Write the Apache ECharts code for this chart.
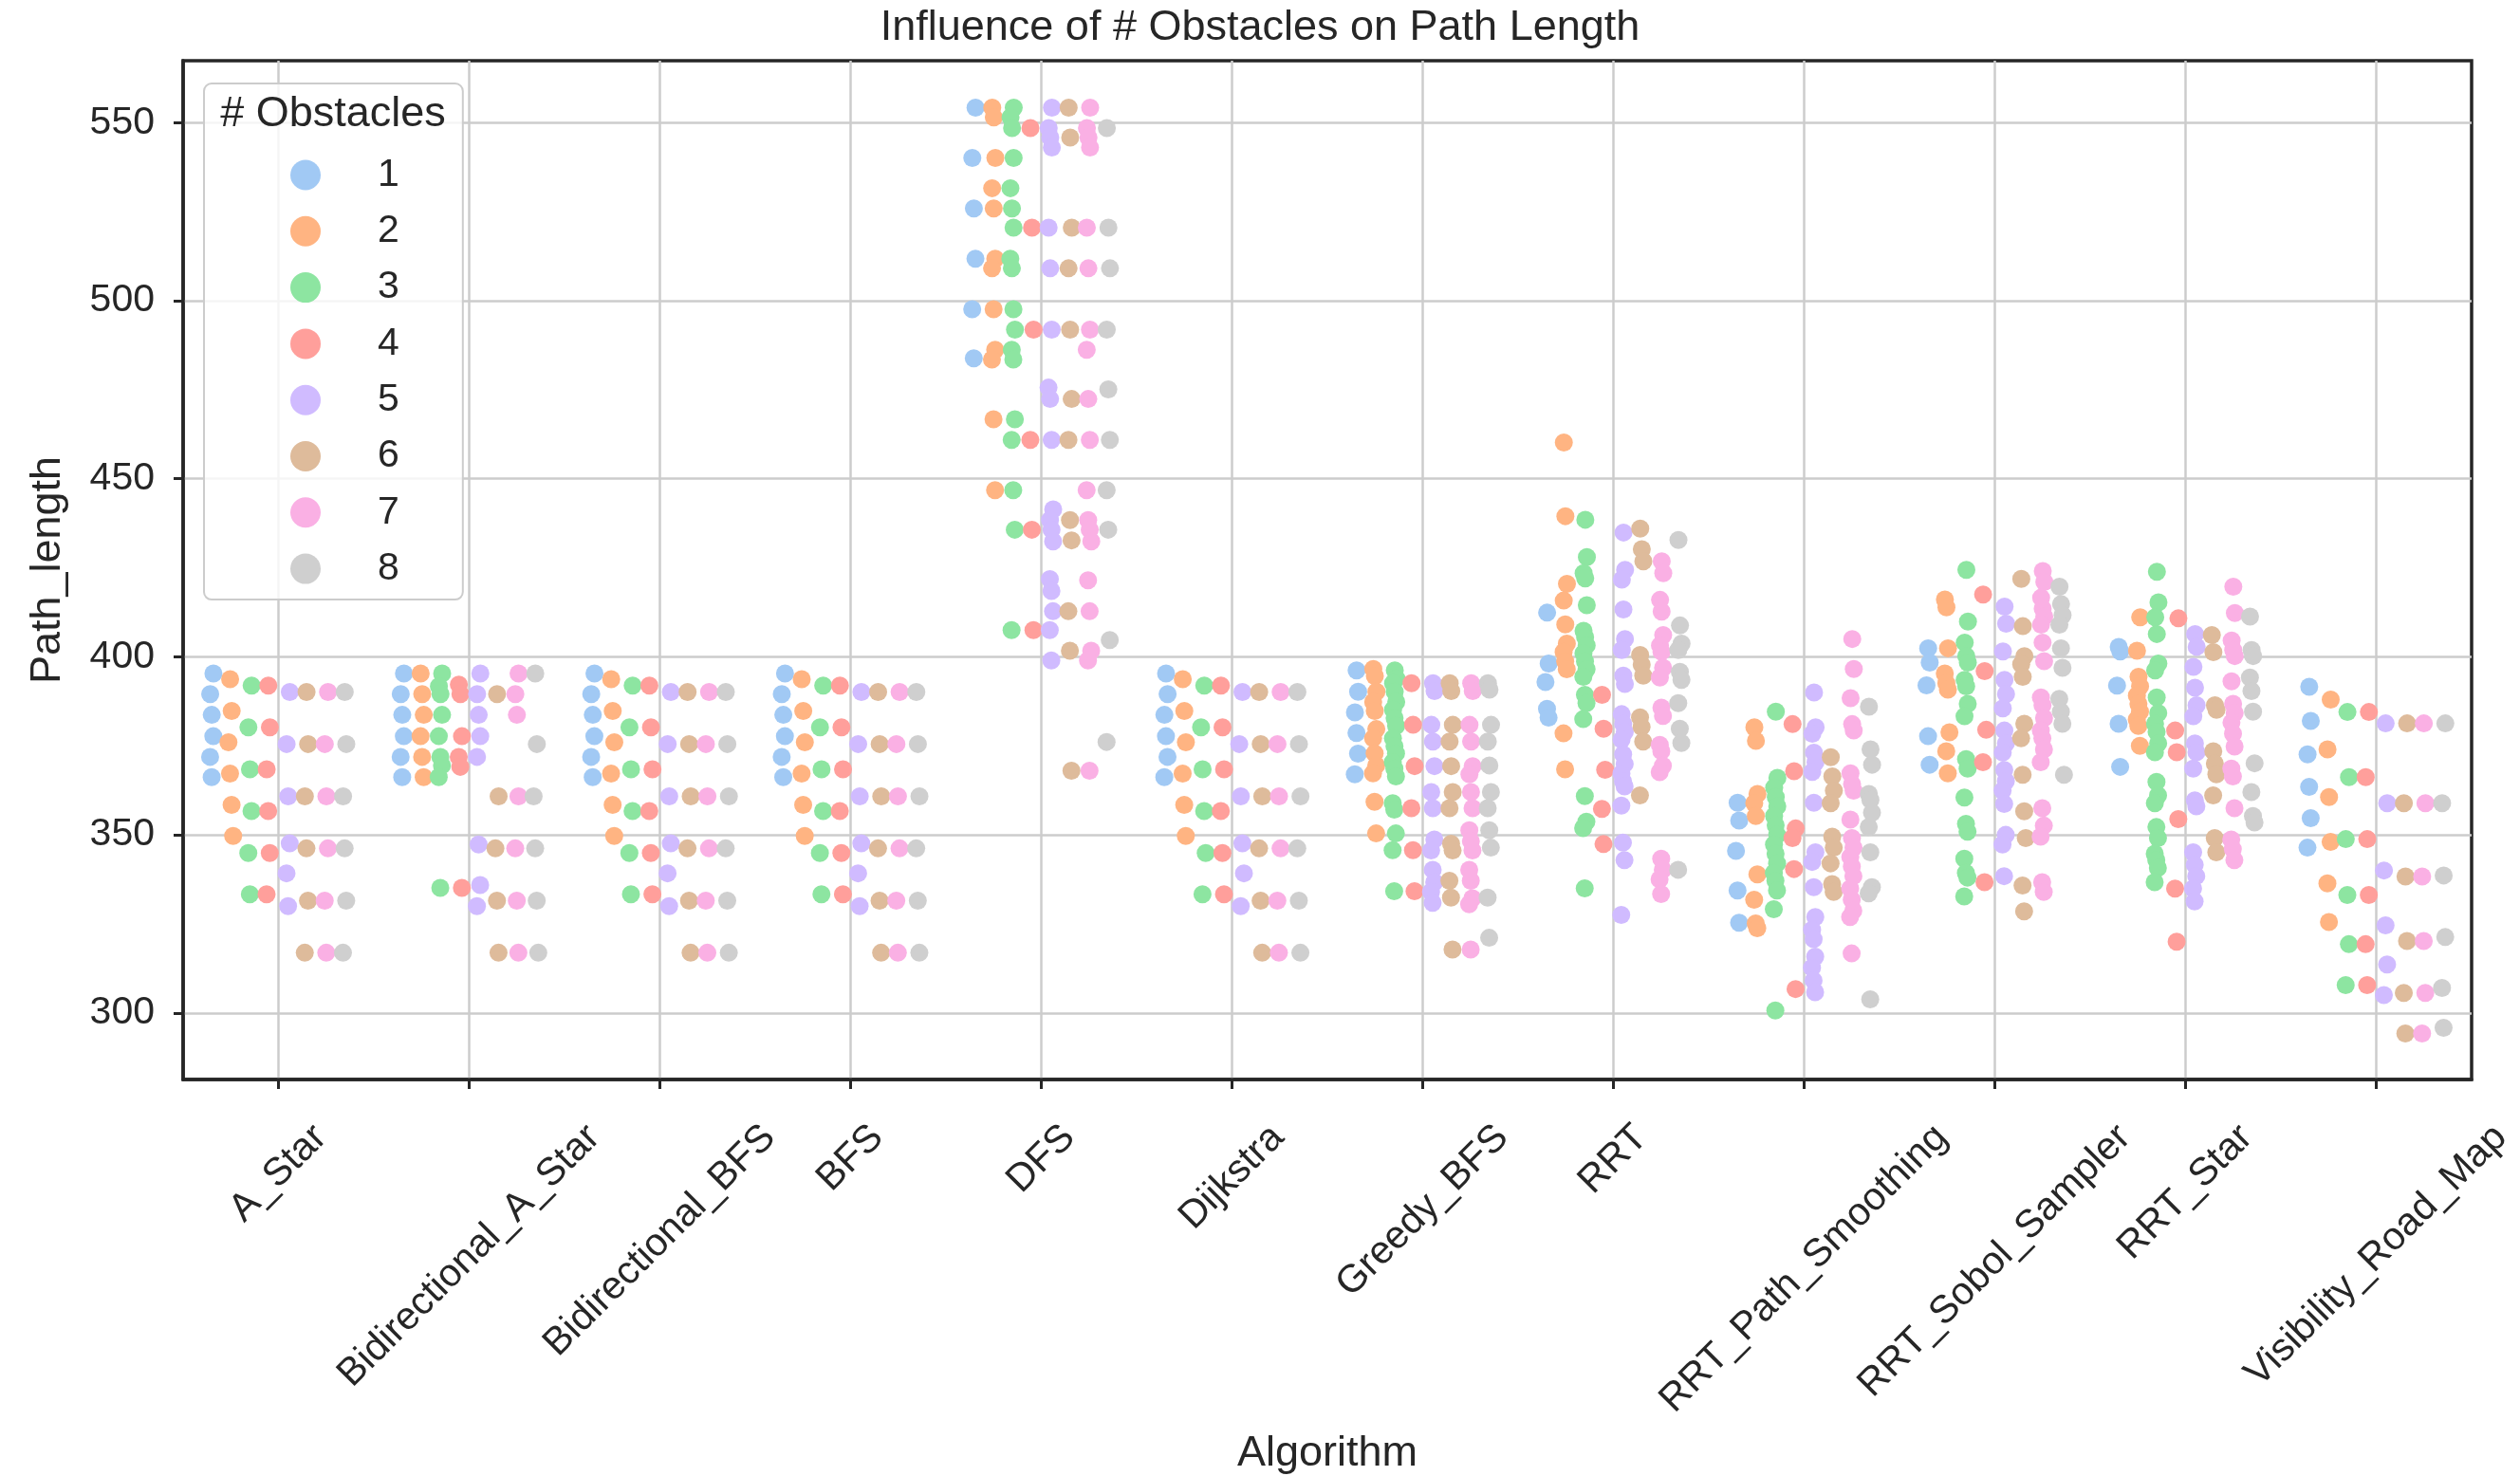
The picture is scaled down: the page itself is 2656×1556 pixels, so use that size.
<!DOCTYPE html>
<html>
<head>
<meta charset="utf-8">
<script src="https://cdn.jsdelivr.net/npm/echarts@6/dist/echarts.min.js"></script>
<style>
html,body{margin:0;padding:0;background:#fff;}
#chart{width:2656px;height:1556px;}
</style>
</head>
<body>
<div id="chart"></div>
<script>
const categories = ['A_Star','Bidirectional_A_Star','Bidirectional_BFS','BFS','DFS','Dijkstra','Greedy_BFS','RRT','RRT_Path_Smoothing','RRT_Sobol_Sampler','RRT_Star','Visibility_Road_Map'];
const hues = ['1','2','3','4','5','6','7','8'];
const colors = ['#a1c9f4','#ffb482','#8de5a1','#ff9f9b','#d0bbff','#debb9b','#fab0e4','#cfcfcf'];
const yTicks = [300,350,400,450,500,550];

// values per algorithm: one list per number of obstacles (1..8)
const A_Star = [
  [395.3,389.5,383.7,377.7,371.9,366.2],
  [393.7,384.8,376.0,367.2,358.4,349.7],
  [391.9,380.2,368.4,356.7,344.9,333.3],
  [391.9,380.2,368.4,356.7,344.9,333.3],
  [390.1,375.5,360.8,347.6,339.2,330.0],
  [390.1,375.5,360.8,346.2,331.5,316.9],
  [390.1,375.5,360.8,346.2,331.5,316.9],
  [390.1,375.5,360.8,346.2,331.5,316.9]
];
const Bidirectional_A_Star = [
  [395.3,389.5,383.7,377.7,371.9,366.2],
  [395.3,389.5,383.7,377.7,371.9,366.2],
  [395.3,391.7,389.5,383.7,377.7,371.9,369.5,366.2,335.1],
  [392.2,389.5,377.7,371.9,369.1,335.1],
  [395.3,389.5,383.7,377.7,371.9,347.3,335.9,330.0],
  [389.5,360.8,346.2,331.5,316.9],
  [395.3,389.5,383.7,360.8,346.2,331.5,316.9],
  [395.3,375.5,360.8,346.2,331.5,316.9]
];
const Bidirectional_BFS = [
  [395.3,389.5,383.7,377.7,371.9,366.2],
  [393.7,384.8,376.0,367.2,358.4,349.7],
  [391.9,380.2,368.4,356.7,344.9,333.3],
  [391.9,380.2,368.4,356.7,344.9,333.3],
  [390.1,375.5,360.8,347.6,339.2,330.0],
  [390.1,375.5,360.8,346.2,331.5,316.9],
  [390.1,375.5,360.8,346.2,331.5,316.9],
  [390.1,375.5,360.8,346.2,331.5,316.9]
];
const BFS = [
  [395.3,389.5,383.7,377.7,371.9,366.2],
  [393.7,384.8,376.0,367.2,358.4,349.7],
  [391.9,380.2,368.4,356.7,344.9,333.3],
  [391.9,380.2,368.4,356.7,344.9,333.3],
  [390.1,375.5,360.8,347.6,339.2,330.0],
  [390.1,375.5,360.8,346.2,331.5,316.9],
  [390.1,375.5,360.8,346.2,331.5,316.9],
  [390.1,375.5,360.8,346.2,331.5,316.9]
];
const DFS = [
  [554.2,540.1,525.9,511.8,497.6,483.8],
  [554.2,551.5,540.1,531.6,525.9,511.8,509.1,497.6,486.2,483.5,466.7,446.8],
  [554.2,551.5,548.5,540.1,531.6,525.9,520.5,511.8,509.1,497.6,491.9,486.2,483.5,466.7,460.9,446.8,435.7,407.5],
  [548.5,520.5,491.9,460.9,435.7,407.5],
  [554.2,548.5,545.8,543.0,520.5,509.1,491.9,475.6,472.4,460.9,441.4,438.4,435.7,432.4,421.8,418.5,412.8,407.5,399.0],
  [554.2,545.8,520.5,509.1,491.9,472.4,460.9,438.4,432.7,412.8,401.7,368.0],
  [554.2,548.5,545.8,543.0,520.5,509.1,491.9,486.2,472.4,460.9,446.8,438.4,435.7,432.4,421.5,412.8,401.7,399.0,368.0],
  [548.5,520.5,509.1,491.9,475.1,460.9,446.8,435.7,404.7,376.1]
];
const Dijkstra = [
  [395.3,389.5,383.7,377.7,371.9,366.2],
  [393.7,384.8,376.0,367.2,358.4,349.7],
  [391.9,380.2,368.4,356.7,344.9,333.3],
  [391.9,380.2,368.4,356.7,344.9,333.3],
  [390.1,375.5,360.8,347.6,339.2,330.0],
  [390.1,375.5,360.8,346.2,331.5,316.9],
  [390.1,375.5,360.8,346.2,331.5,316.9],
  [390.1,375.5,360.8,346.2,331.5,316.9]
];
const Greedy_BFS = [
  [396.2,390.2,384.4,378.6,372.8,367.0],
  [396.6,394.6,390.2,387.3,384.8,379.7,377.1,372.9,369.5,367.3,359.3,350.4],
  [396.2,393.9,392.6,390.2,387.3,385.1,382.8,380.6,377.1,374.9,372.9,370.4,368.6,366.4,358.9,357.1,350.4,345.7,334.2],
  [392.6,380.9,369.3,357.5,345.7,334.2],
  [392.6,390.4,380.9,376.2,369.3,362.0,357.5,348.7,345.6,340.2,336.7,334.0,330.9],
  [392.6,390.4,380.9,376.2,369.3,362.0,357.5,347.5,345.6,337.1,332.4,317.8],
  [392.6,390.4,380.9,376.2,369.3,367.0,362.0,357.5,351.3,348.2,345.6,340.2,337.1,332.2,330.5,317.8],
  [392.6,390.8,380.9,376.2,369.5,362.0,357.5,351.3,346.4,332.4,321.1]
];
const RRT = [
  [412.4,398.1,392.9,385.4,382.9],
  [460.2,439.5,420.5,415.8,409.1,403.7,401.4,398.7,396.5,378.5,368.4],
  [438.5,428.0,423.5,422.0,414.5,407.3,405.5,403.2,401.0,398.7,396.5,394.4,389.3,387.0,382.5,360.9,353.7,351.9,335.0],
  [389.3,379.8,368.3,357.3,347.4],
  [434.9,424.4,421.7,413.3,405.0,401.9,394.7,392.4,383.9,381.2,378.9,376.7,372.6,369.9,367.2,365.0,363.6,358.2,347.8,342.9,327.5],
  [436.0,430.2,426.8,400.5,397.8,394.7,383.0,380.3,376.2,361.1],
  [426.8,423.5,416.0,412.7,406.1,403.2,401.4,396.9,394.2,385.7,383.4,375.3,373.5,369.4,367.6,343.3,340.2,337.5,333.4],
  [432.8,408.8,403.7,401.9,395.8,393.5,387.0,379.8,375.8,340.2]
];
const RRT_Path_Smoothing = [
  [359.0,354.0,345.5,334.4,325.3],
  [380.2,376.4,361.5,358.9,355.3,338.9,331.8,325.1,323.8],
  [384.6,366.0,363.3,360.6,358.0,355.3,352.7,350.0,347.3,344.7,342.0,339.3,337.1,334.4,329.1,300.7],
  [381.1,367.9,351.8,349.1,340.4,306.7],
  [390.0,380.2,378.4,373.1,370.4,367.7,359.0,345.1,342.4,335.3,326.9,323.3,320.7,315.8,312.7,309.1,305.8],
  [371.8,366.4,362.4,358.9,349.5,346.4,342.0,336.2,334.0],
  [405.0,396.6,388.4,381.1,379.3,367.3,364.2,362.4,354.3,349.1,346.4,343.8,341.1,338.4,334.9,331.8,328.7,326.9,316.7],
  [386.0,374.0,369.7,361.5,359.8,356.2,352.2,345.1,335.3,333.6,303.8]
];
const RRT_Sobol_Sampler = [
  [402.4,398.4,392.0,377.7,369.7],
  [416.1,413.9,402.4,395.3,392.6,390.8,378.8,373.5,367.3],
  [424.4,409.9,404.0,400.2,398.4,393.5,391.7,386.8,383.3,371.3,368.6,360.5,353.1,350.9,343.3,339.3,338.0,332.7],
  [417.5,396.0,379.5,370.4,336.7],
  [414.1,409.3,401.5,393.5,389.5,385.5,379.3,375.7,373.1,368.2,365.1,362.4,358.7,350.0,347.3,338.4],
  [421.9,408.6,400.2,397.9,394.4,381.2,377.1,366.9,356.6,349.1,335.8,328.5],
  [424.1,421.0,416.6,413.5,411.3,409.0,404.0,398.8,388.6,386.4,382.8,379.3,377.1,374.0,370.4,357.5,352.6,349.5,336.7,334.0],
  [419.7,414.8,411.7,409.0,402.4,396.9,388.2,384.6,381.2,366.9]
];
const RRT_Star = [
  [402.8,401.5,391.9,381.2,369.1],
  [411.1,401.7,394.4,391.7,389.1,386.8,384.6,382.4,380.6,375.0],
  [423.9,415.3,411.1,406.4,398.1,396.2,388.6,384.2,381.2,378.9,375.7,373.2,364.9,361.1,358.9,352.2,349.1,344.7,342.9,340.7,336.7],
  [410.8,379.3,373.2,354.4,334.9,320.0],
  [406.4,402.8,397.2,391.3,386.4,383.3,375.7,373.2,368.6,359.7,358.0,345.1,341.6,338.4,334.9,331.3],
  [406.1,401.3,386.4,385.1,373.5,370.0,367.0,361.1,349.1,345.1],
  [419.7,412.3,404.6,401.9,400.2,393.1,386.8,384.2,381.5,378.4,374.8,368.6,366.4,357.5,348.7,346.0,342.9],
  [411.3,401.9,400.2,394.2,390.4,384.6,370.1,362.0,355.3,353.5]
];
const Visibility_Road_Map = [
  [391.6,382.0,372.6,363.5,354.7,346.4],
  [388.0,374.0,360.6,348.0,336.4,325.5],
  [384.5,366.2,348.8,333.1,319.3,307.8],
  [384.5,366.2,348.8,333.1,319.3,307.8],
  [381.3,358.9,340.0,324.6,313.6,305.0],
  [381.3,358.9,338.3,320.2,305.6,294.2],
  [381.3,358.9,338.3,320.2,305.6,294.2],
  [381.3,358.9,338.6,321.3,307.0,295.8]
];
const values = [A_Star,Bidirectional_A_Star,Bidirectional_BFS,BFS,DFS,Dijkstra,Greedy_BFS,RRT,RRT_Path_Smoothing,RRT_Sobol_Sampler,RRT_Star,Visibility_Road_Map];

const Y_MIN = 281.3, Y_MAX = 567.4;
const FONT = '"Liberation Sans", Arial, sans-serif';
const INK = '#262626';
const TICK_FS = 41, LABEL_FS = 45;
const DODGE = 0.8, NH = hues.length;

function jitter(c, h, k) {
  const f = ((c * 131 + h * 17 + k * 7 + 3) * 0.6180339887) % 1;
  return (f - 0.5) * 0.025;
}

const series = hues.map((name, h) => {
  const data = [];
  values.forEach((grp, c) => {
    grp[h].forEach((v, k) => {
      const x = c - DODGE / 2 + DODGE / NH * (h + 0.5) + jitter(c, h, k);
      data.push([x, v]);
    });
  });
  return {
    name: name, type: 'scatter', data: data, symbolSize: 19,
    itemStyle: { color: colors[h], opacity: 1 },
    emphasis: { disabled: true }, animation: false, z: 3
  };
});

const measureCtx = document.createElement('canvas').getContext('2d');
measureCtx.font = TICK_FS + 'px ' + FONT;

series.push({
  type: 'custom', coordinateSystem: 'cartesian2d', clip: false, silent: true, z: 5,
  animation: false,
  data: categories.map((c, i) => [i, Y_MIN]),
  renderItem: function (params, api) {
    const i = api.value(0);
    const p = api.coord([i, api.value(1)]);
    const text = categories[i];
    const w = measureCtx.measureText(text).width;
    const hgt = TICK_FS * 1.1;
    const half = (w + hgt) * Math.SQRT1_2 / 2;
    return {
      type: 'text', x: p[0], y: p[1] + 39 + half, rotation: Math.PI / 4,
      style: { text: text, fontSize: TICK_FS, fontFamily: FONT, fill: INK, align: 'center', verticalAlign: 'middle' }
    };
  }
});

const chart = echarts.init(document.getElementById('chart'), null, { renderer: 'canvas' });
chart.setOption({
  backgroundColor: '#ffffff',
  animation: false,
  color: colors,
  textStyle: { fontFamily: FONT, color: INK },
  title: [
    { text: 'Influence of # Obstacles on Path Length', left: 'center', top: 2,
      textStyle: { fontSize: LABEL_FS, fontWeight: 'normal', color: INK, fontFamily: FONT } },
    { text: '# Obstacles', left: 351, top: 98, textAlign: 'center', padding: 0,
      textStyle: { fontSize: LABEL_FS, fontWeight: 'normal', color: INK, fontFamily: FONT }, z: 10 }
  ],
  legend: {
    data: hues, orient: 'vertical', left: 215, top: 88,
    padding: [76, 67, 12, 91], itemWidth: 32, itemHeight: 32, itemGap: 18.3,
    icon: 'circle', borderColor: '#cccccc', borderWidth: 2, borderRadius: 8,
    backgroundColor: 'rgba(255,255,255,0.8)',
    textStyle: { fontSize: TICK_FS, color: INK, fontFamily: FONT, lineHeight: 32, padding: [0, 0, 0, 55] },
    selectedMode: false, z: 9
  },
  grid: { left: 193, right: 51, top: 64, bottom: 418, show: true, borderColor: INK, borderWidth: 3.5,
          backgroundColor: 'transparent', containLabel: false, outerBoundsMode: 'none' },
  xAxis: {
    type: 'value', min: -0.5, max: 11.5,
    name: 'Algorithm', nameLocation: 'middle', nameGap: 372,
    nameTextStyle: { fontSize: LABEL_FS, color: INK, fontFamily: FONT },
    axisLine: { show: true, onZero: false, lineStyle: { color: INK, width: 3.5 } },
    axisTick: { show: true, length: 10, lineStyle: { color: INK, width: 3 }, customValues: categories.map((c, i) => i) },
    axisLabel: { show: false },
    splitLine: { show: true, lineStyle: { color: '#cccccc', width: 2.5 } }
  },
  yAxis: {
    type: 'value', min: Y_MIN, max: Y_MAX,
    name: 'Path_length', nameLocation: 'middle', nameGap: 120,
    nameTextStyle: { fontSize: LABEL_FS, color: INK, fontFamily: FONT },
    axisLine: { show: true, onZero: false, lineStyle: { color: INK, width: 3.5 } },
    axisTick: { show: true, length: 10, lineStyle: { color: INK, width: 3 }, customValues: yTicks },
    axisLabel: { show: true, fontSize: TICK_FS, color: INK, fontFamily: FONT, margin: 30, customValues: yTicks },
    splitLine: { show: true, lineStyle: { color: '#cccccc', width: 2.5 } }
  },
  series: series
});
</script>
</body>
</html>
